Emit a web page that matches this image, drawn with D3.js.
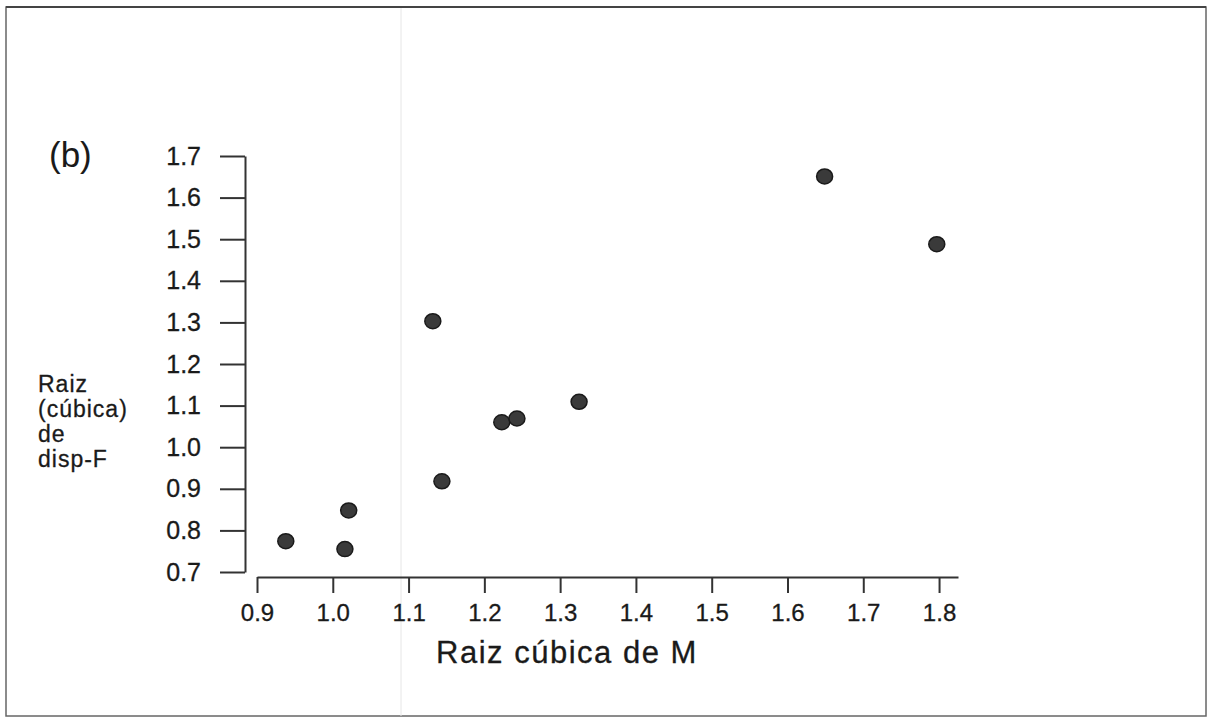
<!DOCTYPE html>
<html>
<head>
    <meta charset="utf-8">
    <title>Raiz cúbica de disp-F vs M</title>
    <script src="https://d3js.org/d3.v7.min.js"></script>
</head>
<body style="margin:0;background:#fff">
    <script>
        const [width, height] = [1211, 719]

        // values
        const mValues = [0.938, 1.016, 1.021, 1.144, 1.132, 1.223, 1.243, 1.325, 1.649, 1.797];
        const dispValues = [0.774, 0.755, 0.848, 0.918, 1.303, 1.060, 1.069, 1.109, 1.651, 1.488];
        const xTicks = [0.9, 1.0, 1.1, 1.2, 1.3, 1.4, 1.5, 1.6, 1.7, 1.8];
        const yTicks = [0.7, 0.8, 0.9, 1.0, 1.1, 1.2, 1.3, 1.4, 1.5, 1.6, 1.7];
        const yTitleLines = ["Raiz", "(cúbica)", "de", "disp-F"];

        const points = mValues.map((m, i) => ({ m: m, d: dispValues[i] }));

        const svg = d3.select("body")
            .append("svg")
            .attr("width", width)
            .attr("height", height)
            .style("display", "block")
            .style("font-family", "Liberation Sans, Arial, sans-serif");

        // outer frame of the figure
        svg.append("rect")
            .attr("x", 6).attr("y", 7)
            .attr("width", 1200).attr("height", 709)
            .attr("fill", "none")
            .attr("stroke", "#666")
            .attr("stroke-width", 1.5);
        svg.append("line")
            .attr("x1", 6).attr("x2", 1206)
            .attr("y1", 7).attr("y2", 7)
            .attr("stroke", "#444")
            .attr("stroke-width", 2);

        // faint fold line from the scan
        svg.append("line")
            .attr("x1", 401).attr("x2", 401)
            .attr("y1", 8).attr("y2", 716)
            .attr("stroke", "#e6e6e6")
            .attr("stroke-width", 1);

        const x = d3.scaleLinear().domain([0.9, 1.825]).range([257, 958]);
        const y = d3.scaleLinear().domain([0.7, 1.7]).range([572, 156]);

        const xAxis = svg.append("g")
            .attr("transform", "translate(0,577)")
            .call(d3.axisBottom(x)
                .tickValues(xTicks)
                .tickFormat(d3.format(".1f"))
                .tickSize(16)
                .tickSizeOuter(0)
                .tickPadding(11));

        const yAxis = svg.append("g")
            .attr("transform", "translate(245,0)")
            .call(d3.axisLeft(y)
                .tickValues(yTicks)
                .tickFormat(d3.format(".1f"))
                .tickSize(25)
                .tickSizeOuter(0)
                .tickPadding(19));

        [xAxis, yAxis].forEach(g => {
            g.select(".domain").attr("stroke", "#333").attr("stroke-width", 2);
            g.selectAll(".tick line").attr("stroke", "#333").attr("stroke-width", 2);
            g.selectAll(".tick text")
                .attr("fill", "#1a1a1a")
                .attr("stroke", "#1a1a1a")
                .attr("stroke-width", 0.3)
                .style("font-family", "Liberation Sans, Arial, sans-serif");
        });
        xAxis.selectAll(".tick text").style("font-size", "24px");
        yAxis.selectAll(".tick text").style("font-size", "25px");

        // panel label
        svg.append("text")
            .attr("x", 49).attr("y", 167)
            .attr("fill", "#1a1a1a")
            .style("font-size", "35px")
            .text("(b)");

        // axis titles
        svg.append("text")
            .attr("x", 567).attr("y", 663)
            .attr("text-anchor", "middle")
            .attr("fill", "#1a1a1a")
            .attr("stroke", "#1a1a1a")
            .attr("stroke-width", 0.3)
            .style("font-size", "31px")
            .style("letter-spacing", "1.5px")
            .text("Raiz cúbica de M");

        svg.append("g").selectAll("text")
            .data(yTitleLines)
            .enter()
            .append("text")
            .attr("x", 38)
            .attr("y", (d, i) => 392 + i * 25)
            .attr("fill", "#1a1a1a")
            .attr("stroke", "#1a1a1a")
            .attr("stroke-width", 0.3)
            .style("font-size", "23px")
            .style("letter-spacing", "1px")
            .text(d => d);

        // data points
        svg.append("g").selectAll("ellipse")
            .data(points)
            .enter()
            .append("ellipse")
            .attr("cx", d => x(d.m))
            .attr("cy", d => y(d.d))
            .attr("rx", 8)
            .attr("ry", 7.5)
            .attr("fill", "#3a3a3a")
            .attr("stroke", "#1a1a1a")
            .attr("stroke-width", 1.5);
    </script>
</body>
</html>
